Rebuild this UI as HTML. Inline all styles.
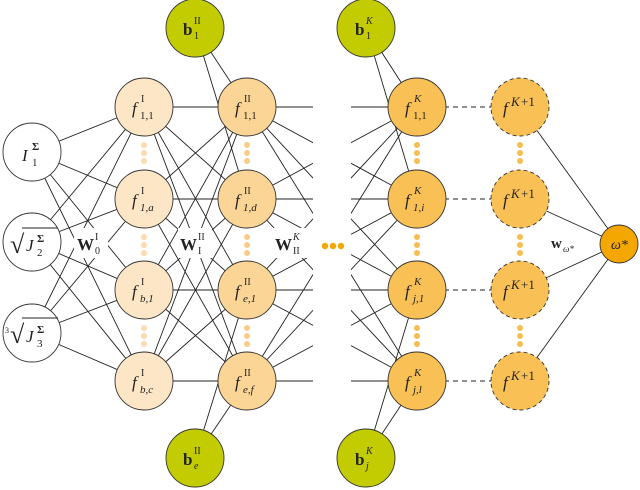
<!DOCTYPE html>
<html><head><meta charset="utf-8"><style>
html,body{margin:0;padding:0;background:#fff;}
svg{display:block;}
text{font-family:"Liberation Serif",serif;fill:#222;}
.it{font-style:italic;}
</style></head><body>
<svg width="640" height="490" viewBox="0 0 640 490" xmlns="http://www.w3.org/2000/svg">
<defs>
<clipPath id="cl"><rect x="0" y="0" width="313" height="490"/><rect x="351" y="0" width="300" height="490"/></clipPath>
</defs>
<g stroke="#222" stroke-width="0.9" fill="none">
<!-- input -> I -->
<path d="M32 152L144 107M32 152L144 199M32 152L144 290M32 152L144 381
M32 242L144 107M32 242L144 199M32 242L144 290M32 242L144 381
M32 333L144 107M32 333L144 199M32 333L144 290M32 333L144 381"/>
<!-- I -> II -->
<path d="M144 107L247 107M144 107L247 199M144 107L247 290M144 107L247 381
M144 199L247 107M144 199L247 199M144 199L247 290M144 199L247 381
M144 290L247 107M144 290L247 199M144 290L247 290M144 290L247 381
M144 381L247 107M144 381L247 199M144 381L247 290M144 381L247 381"/>
<!-- biases -->
<path d="M195 28L247 107M195 28L247 199M195 458L247 290M195 458L247 381
M366 28L417 107M366 28L417 199M366 458L417 290M366 458L417 381"/>
<!-- II -> K clipped -->
<path clip-path="url(#cl)" d="M247 107L417 107M247 107L417 199M247 107L417 290M247 107L417 381
M247 199L417 107M247 199L417 199M247 199L417 290M247 199L417 381
M247 290L417 107M247 290L417 199M247 290L417 290M247 290L417 381
M247 381L417 107M247 381L417 199M247 381L417 290M247 381L417 381"/>
<!-- K+1 -> out -->
<path d="M520 107L619 244M520 199L619 244M520 290L619 244M520 381L619 244"/>
<path stroke-dasharray="5,4" d="M417 107L520 107M417 199L520 199M417 290L520 290M417 381L520 381"/>
</g>
<!-- label backgrounds -->
<g fill="#fff">
<rect x="74" y="228" width="34" height="30"/>
<rect x="178" y="228" width="34" height="30"/>
<rect x="273" y="228" width="40" height="30"/>
</g>
<!-- nodes -->
<g stroke="#333" stroke-width="0.9">
<circle cx="32" cy="152" r="29" fill="#fff"/>
<circle cx="32" cy="242" r="29" fill="#fff"/>
<circle cx="32" cy="333" r="29" fill="#fff"/>
<g fill="#fde6c6">
<circle cx="144" cy="107" r="29"/><circle cx="144" cy="199" r="29"/><circle cx="144" cy="290" r="29"/><circle cx="144" cy="381" r="29"/>
</g>
<g fill="#fad595">
<circle cx="247" cy="107" r="29"/><circle cx="247" cy="199" r="29"/><circle cx="247" cy="290" r="29"/><circle cx="247" cy="381" r="29"/>
</g>
<g fill="#f9c155">
<circle cx="417" cy="107" r="29"/><circle cx="417" cy="199" r="29"/><circle cx="417" cy="290" r="29"/><circle cx="417" cy="381" r="29"/>
</g>
<g fill="#f9c155" stroke-dasharray="4,3">
<circle cx="520" cy="107" r="29"/><circle cx="520" cy="199" r="29"/><circle cx="520" cy="290" r="29"/><circle cx="520" cy="381" r="29"/>
</g>
<g fill="#c2cc00">
<circle cx="195" cy="28" r="29"/><circle cx="195" cy="458" r="29"/>
<circle cx="366" cy="28" r="29"/><circle cx="366" cy="458" r="29"/>
</g>
<circle cx="619" cy="244" r="19" fill="#f4a700"/>
</g>
<!-- dots -->
<g fill="#fbdcb0">
<circle cx="144" cy="145" r="3"/><circle cx="144" cy="153" r="3"/><circle cx="144" cy="161" r="3"/>
<circle cx="144" cy="237" r="3"/><circle cx="144" cy="245" r="3"/><circle cx="144" cy="253" r="3"/>
<circle cx="144" cy="328" r="3"/><circle cx="144" cy="336" r="3"/><circle cx="144" cy="344" r="3"/>
</g>
<g fill="#f9cc88">
<circle cx="247" cy="145" r="3"/><circle cx="247" cy="153" r="3"/><circle cx="247" cy="161" r="3"/>
<circle cx="247" cy="237" r="3"/><circle cx="247" cy="245" r="3"/><circle cx="247" cy="253" r="3"/>
<circle cx="247" cy="328" r="3"/><circle cx="247" cy="336" r="3"/><circle cx="247" cy="344" r="3"/>
</g>
<g fill="#f8bd50">
<circle cx="417" cy="145" r="3"/><circle cx="417" cy="153" r="3"/><circle cx="417" cy="161" r="3"/>
<circle cx="417" cy="237" r="3"/><circle cx="417" cy="245" r="3"/><circle cx="417" cy="253" r="3"/>
<circle cx="417" cy="328" r="3"/><circle cx="417" cy="336" r="3"/><circle cx="417" cy="344" r="3"/>
<circle cx="520" cy="145" r="3"/><circle cx="520" cy="153" r="3"/><circle cx="520" cy="161" r="3"/>
<circle cx="520" cy="237" r="3"/><circle cx="520" cy="245" r="3"/><circle cx="520" cy="253" r="3"/>
<circle cx="520" cy="328" r="3"/><circle cx="520" cy="336" r="3"/><circle cx="520" cy="344" r="3"/>
</g>
<g fill="#f4a700"><circle cx="325" cy="246" r="3.2"/><circle cx="333" cy="246" r="3.2"/><circle cx="341" cy="246" r="3.2"/></g>
<!-- texts -->
<g font-size="17">
<text x="22" y="161" class="it">I</text><text x="32" y="150" font-size="11" font-weight="bold">Σ</text><text x="32" y="166" font-size="11">1</text>
<text x="10" y="253" font-size="26">√</text><path d="M22 228H58" stroke="#222" stroke-width="0.9"/><text x="26" y="251" class="it">J</text><text x="37" y="242" font-size="11" font-weight="bold">Σ</text><text x="37" y="256" font-size="11">2</text>
<text x="5" y="333" font-size="8">3</text><text x="10" y="343" font-size="26">√</text><path d="M22 318H58" stroke="#222" stroke-width="0.9"/><text x="26" y="342" class="it">J</text><text x="37" y="333" font-size="11" font-weight="bold">Σ</text><text x="37" y="347" font-size="11">3</text>

<text x="132" y="114" class="it">f</text><text x="141" y="102" font-size="10">I</text><text x="140" y="119" font-size="11">1,1</text>
<text x="132" y="206" class="it">f</text><text x="141" y="194" font-size="10">I</text><text x="140" y="211" font-size="11" class="it">1,a</text>
<text x="132" y="297" class="it">f</text><text x="141" y="285" font-size="10">I</text><text x="140" y="302" font-size="11" class="it">b,1</text>
<text x="132" y="388" class="it">f</text><text x="141" y="376" font-size="10">I</text><text x="140" y="393" font-size="11" class="it">b,c</text>

<text x="235" y="114" class="it">f</text><text x="244" y="102" font-size="10">II</text><text x="243" y="119" font-size="11">1,1</text>
<text x="235" y="206" class="it">f</text><text x="244" y="194" font-size="10">II</text><text x="243" y="211" font-size="11" class="it">1,d</text>
<text x="235" y="297" class="it">f</text><text x="244" y="285" font-size="10">II</text><text x="243" y="302" font-size="11" class="it">e,1</text>
<text x="235" y="388" class="it">f</text><text x="244" y="376" font-size="10">II</text><text x="243" y="393" font-size="11" class="it">e,f</text>

<text x="405" y="114" class="it">f</text><text x="414" y="102" font-size="11" class="it">K</text><text x="413" y="119" font-size="11">1,1</text>
<text x="405" y="206" class="it">f</text><text x="414" y="194" font-size="11" class="it">K</text><text x="413" y="211" font-size="11" class="it">1,i</text>
<text x="405" y="297" class="it">f</text><text x="414" y="285" font-size="11" class="it">K</text><text x="413" y="302" font-size="11" class="it">j,1</text>
<text x="405" y="388" class="it">f</text><text x="414" y="376" font-size="11" class="it">K</text><text x="413" y="393" font-size="11" class="it">j,l</text>

<g font-size="17"><text x="503" y="114" class="it">f</text><text x="511" y="106" font-size="13" class="it">K</text><text x="521" y="106" font-size="13">+1</text>
<text x="503" y="206" class="it">f</text><text x="511" y="198" font-size="13" class="it">K</text><text x="521" y="198" font-size="13">+1</text>
<text x="503" y="297" class="it">f</text><text x="511" y="289" font-size="13" class="it">K</text><text x="521" y="289" font-size="13">+1</text>
<text x="503" y="388" class="it">f</text><text x="511" y="380" font-size="13" class="it">K</text><text x="521" y="380" font-size="13">+1</text></g>

<text x="183" y="35" font-weight="bold">b</text><text x="194" y="24" font-size="10">II</text><text x="194" y="39" font-size="10">1</text>
<text x="183" y="465" font-weight="bold">b</text><text x="194" y="454" font-size="10">II</text><text x="194" y="469" font-size="10" class="it">e</text>
<text x="355" y="35" font-weight="bold">b</text><text x="366" y="24" font-size="10" class="it">K</text><text x="366" y="39" font-size="10">1</text>
<text x="355" y="465" font-weight="bold">b</text><text x="366" y="454" font-size="10" class="it">K</text><text x="366" y="469" font-size="10" class="it">j</text>

<text x="77" y="250" font-weight="bold">W</text><text x="95" y="240" font-size="10">I</text><text x="95" y="254" font-size="10">0</text>
<text x="180" y="250" font-weight="bold">W</text><text x="198" y="240" font-size="10">II</text><text x="198" y="254" font-size="10">I</text>
<text x="275" y="250" font-weight="bold">W</text><text x="293" y="240" font-size="10" class="it">K</text><text x="293" y="254" font-size="10">II</text>
<text x="551" y="248" font-weight="bold" font-size="15">w</text><text x="563" y="252" font-size="9" class="it">ω*</text>
<text x="611" y="249" class="it" font-size="14">ω*</text>
</g>
</svg>
</body></html>
